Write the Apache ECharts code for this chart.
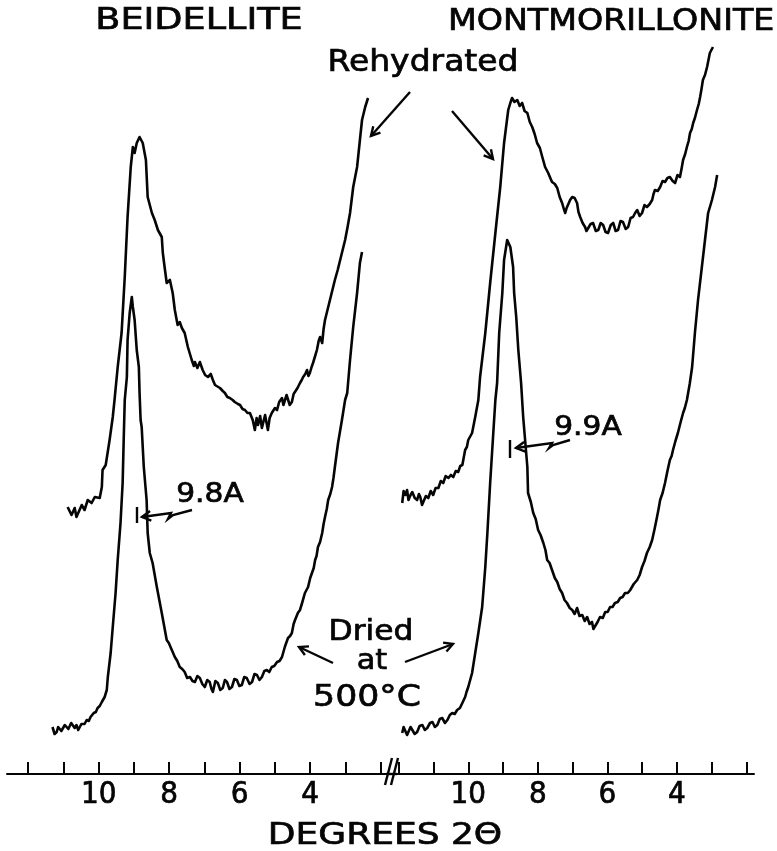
<!DOCTYPE html>
<html lang="en">
<head>
<meta charset="UTF-8">
<title>Beidellite / Montmorillonite XRD</title>
<script src="https://cdn.jsdelivr.net/npm/echarts@6/dist/echarts.min.js"></script>
<style type="text/css">
body{margin:0; padding:0; background:#fff;}
#main{width:777px; height:851px;}
</style>
</head>
<body>
<div id="main"></div>
<script type="text/javascript">
// x = degrees 2-theta, y = relative intensity (traces are stacked)
var tickDegrees = [2, 3, 4, 5, 6, 7, 8, 9, 10, 11, 12];
var labelDegrees = [4, 6, 8, 10];

var beidRehyd = [
  [10.88,267],[10.77,259],[10.68,266],[10.63,257],[10.48,269],[10.40,264],[10.31,274],[10.20,271],
  [10.11,277],[9.97,276],[9.91,287],[9.89,304],[9.80,309],[9.69,334],[9.60,357],[9.55,374],
  [9.46,407],[9.35,441],[9.26,497],[9.18,557],[9.09,607],[9.03,627],[8.98,621],[8.92,631],
  [8.84,637],[8.75,631],[8.66,614],[8.61,577],[8.49,561],[8.41,554],[8.32,544],[8.21,537],
  [8.18,521],[8.13,507],[8.07,491],[7.98,494],[7.90,481],[7.84,464],[7.76,449],[7.70,452],
  [7.64,446],[7.56,441],[7.47,427],[7.36,414],[7.30,408],[7.27,412],[7.20,406],[7.13,412],
  [7.05,404],[6.98,399],[6.90,397],[6.82,400],[6.76,394],[6.70,389],[6.65,391],[6.56,386],
  [6.48,383],[6.42,381],[6.35,377],[6.28,376],[6.20,374],[6.14,372],[6.05,370],[5.99,369],
  [5.92,365],[5.85,364],[5.78,361],[5.71,361],[5.63,354],[5.57,344],[5.52,356],[5.48,349],
  [5.42,358],[5.37,346],[5.28,359],[5.20,344],[5.15,356],[5.09,361],[5.00,366],[4.94,364],
  [4.88,372],[4.80,376],[4.76,369],[4.72,371],[4.67,379],[4.63,377],[4.58,369],[4.52,372],
  [4.47,380],[4.43,379],[4.36,386],[4.29,391],[4.24,394],[4.20,397],[4.14,400],[4.09,404],
  [4.05,398],[4.01,401],[3.96,407],[3.92,411],[3.86,418],[3.81,424],[3.76,433],[3.72,437],
  [3.66,431],[3.62,445],[3.58,454],[3.51,464],[3.44,474],[3.37,484],[3.30,494],[3.22,504],
  [3.15,514],[3.08,524],[3.01,534],[2.94,547],[2.87,561],[2.78,587],[2.67,607],[2.59,634],
  [2.53,654],[2.44,667],[2.36,676]
];

var beidDried = [
  [11.31,47],[11.25,40],[11.19,42],[11.15,47],[11.11,49],[11.06,43],[11.02,44],[10.96,49],
  [10.91,51],[10.86,45],[10.82,46],[10.78,51],[10.74,52],[10.68,46],[10.63,49],[10.58,44],
  [10.54,42],[10.49,50],[10.45,52],[10.40,50],[10.34,54],[10.28,53],[10.23,57],[10.18,56],
  [10.14,61],[10.08,62],[10.03,66],[9.97,68],[9.91,72],[9.87,74],[9.83,77],
  [9.77,84],[9.74,97],[9.66,121],[9.60,147],[9.52,181],[9.46,214],[9.38,251],[9.32,291],
  [9.29,334],[9.26,374],[9.20,397],[9.18,434],[9.12,461],[9.06,477],[9.03,467],[8.98,454],
  [8.92,424],[8.86,407],[8.84,381],[8.81,354],[8.78,347],[8.72,307],[8.64,274],[8.61,241],
  [8.55,221],[8.47,211],[8.35,187],[8.21,161],[8.07,134],[8.01,131],[7.95,126],[7.90,122],
  [7.84,117],[7.77,113],[7.70,107],[7.63,105],[7.56,102],[7.49,96],[7.41,97],[7.34,93],
  [7.27,92],[7.20,98],[7.13,96],[7.06,90],[6.99,87],[6.92,94],[6.85,92],[6.80,85],
  [6.76,82],[6.69,93],[6.62,91],[6.55,84],[6.48,86],[6.42,94],[6.36,92],[6.29,85],
  [6.22,87],[6.15,95],[6.08,94],[6.01,88],[5.94,89],[5.87,97],[5.80,96],[5.72,90],
  [5.65,92],[5.58,100],[5.51,99],[5.44,94],[5.37,97],[5.30,103],[5.23,104],[5.16,102],
  [5.09,107],[5.02,108],[4.94,112],[4.87,113],[4.80,117],[4.72,127],[4.63,136],[4.57,138],
  [4.52,141],[4.47,150],[4.43,154],[4.35,161],[4.29,164],[4.23,171],[4.15,181],[4.10,182],
  [4.06,187],[4.00,196],[3.95,201],[3.90,206],[3.86,214],[3.82,218],[3.78,227],[3.72,232],
  [3.66,241],[3.62,250],[3.58,257],[3.53,265],[3.49,274],[3.43,280],[3.38,287],[3.34,296],
  [3.30,307],[3.21,331],[3.10,354],[3.01,374],[2.95,381],[2.87,414],[2.78,447],[2.67,481],
  [2.59,511],[2.53,522]
];

var montRehyd = [
  [11.90,271],[11.86,283],[11.81,279],[11.76,284],[11.72,274],[11.66,279],[11.61,282],[11.54,276],
  [11.47,274],[11.42,280],[11.38,277],[11.33,269],[11.29,271],[11.22,278],[11.15,276],[11.08,283],
  [11.01,279],[10.94,286],[10.86,286],[10.79,293],[10.72,291],[10.65,298],[10.57,296],[10.50,299],
  [10.43,297],[10.36,303],[10.29,302],[10.23,308],[10.17,309],[10.09,324],[10.04,327],
  [10.00,334],[9.89,341],[9.80,357],[9.71,374],[9.66,397],[9.51,441],[9.37,491],[9.22,541],
  [9.08,587],[8.97,631],[8.85,664],[8.79,671],[8.74,676],[8.67,672],[8.59,674],[8.52,668],
  [8.45,671],[8.38,663],[8.30,661],[8.23,652],[8.16,647],[8.09,640],[8.02,631],[7.94,626],
  [7.87,617],[7.83,612],[7.79,607],[7.74,605],[7.70,601],[7.64,596],[7.59,592],[7.51,590],
  [7.44,586],[7.37,577],[7.30,571],[7.25,565],[7.21,561],[7.17,566],[7.13,567],[7.07,574],
  [7.01,577],[6.94,576],[6.87,571],[6.83,562],[6.78,557],[6.71,551],[6.64,547],[6.60,543],
  [6.55,541],[6.48,550],[6.41,551],[6.33,543],[6.26,544],[6.19,551],[6.12,549],[6.05,542],
  [5.98,541],[5.90,549],[5.83,551],[5.76,543],[5.69,544],[5.62,553],[5.55,552],[5.47,545],
  [5.40,547],[5.33,556],[5.26,557],[5.20,561],[5.14,564],[5.07,558],[5.00,561],[4.93,569],
  [4.86,567],[4.78,570],[4.71,574],[4.67,580],[4.63,584],[4.55,583],[4.48,587],[4.41,593],
  [4.34,592],[4.27,596],[4.20,597],[4.12,593],[4.05,591],[3.98,599],[3.91,597],[3.86,606],
  [3.82,614],[3.76,620],[3.71,627],[3.66,633],[3.62,641],[3.57,645],[3.53,651],[3.48,656],
  [3.42,664],[3.37,670],[3.33,677],[3.29,685],[3.25,694],[3.19,699],[3.13,707],[3.09,714],
  [3.05,721],[2.96,727]
];

var montDried = [
  [11.90,41],[11.86,47],[11.81,46],[11.76,39],[11.72,41],[11.66,47],[11.61,47],[11.54,40],
  [11.47,42],[11.40,48],[11.32,49],[11.25,44],[11.18,46],[11.10,51],[11.03,52],[10.96,47],
  [10.89,49],[10.82,55],[10.75,56],[10.67,51],[10.60,54],[10.53,59],[10.46,61],[10.39,60],
  [10.32,64],[10.24,66],[10.17,71],[10.13,73],[10.09,77],[10.05,82],[10.00,87],
  [9.89,101],[9.80,121],[9.71,141],[9.60,167],[9.51,207],[9.45,241],[9.37,291],[9.28,341],
  [9.22,374],[9.17,391],[9.11,441],[9.02,481],[8.97,514],[8.88,534],[8.79,527],[8.71,507],
  [8.68,481],[8.62,457],[8.56,424],[8.48,391],[8.42,357],[8.30,307],[8.28,281],[8.20,272],
  [8.13,261],[8.06,255],[7.99,244],[7.92,239],[7.84,231],[7.78,224],[7.73,214],[7.66,211],
  [7.59,204],[7.51,196],[7.44,192],[7.37,185],[7.30,181],[7.23,174],[7.16,171],[7.08,166],
  [7.01,164],[6.94,160],[6.87,166],[6.80,158],[6.72,159],[6.65,153],[6.58,157],[6.51,150],
  [6.44,152],[6.40,145],[6.35,147],[6.28,152],[6.21,157],[6.13,156],[6.06,162],[5.99,162],
  [5.92,167],[5.85,167],[5.78,171],[5.70,172],[5.63,176],[5.56,177],[5.49,181],[5.41,181],
  [5.34,184],[5.24,190],[5.14,194],[5.07,199],[5.00,207],[4.93,213],[4.86,221],[4.78,227],
  [4.71,234],[4.64,245],[4.57,257],[4.52,266],[4.48,274],[4.41,281],[4.34,291],[4.27,303],
  [4.20,314],[4.15,318],[4.11,324],[4.04,333],[3.97,341],[3.89,352],[3.82,361],[3.77,366],
  [3.71,374],[3.63,390],[3.56,407],[3.48,441],[3.39,474],[3.28,507],[3.19,534],[3.10,561],
  [3.04,568],[2.99,574],[2.90,587],[2.84,599]
];

var ink = '#050505';
var letterFont = 'DejaVu Sans, Liberation Sans, sans-serif';

function xAxisFor(gridIndex, min, max) {
  return {
    gridIndex: gridIndex,
    type: 'value',
    inverse: true,
    min: min,
    max: max,
    splitLine: {show: false},
    axisLine: {onZero: false, lineStyle: {color: ink, width: 2}},
    axisTick: {inside: true, length: 12, customValues: tickDegrees, lineStyle: {color: ink, width: 2}},
    axisLabel: {
      customValues: labelDegrees,
      margin: 5,
      color: ink,
      fontSize: 31,
      fontFamily: 'DejaVu Sans Condensed, DejaVu Sans, sans-serif',
      textBorderColor: ink,
      textBorderWidth: 0.7
    }
  };
}

function yAxisFor(gridIndex) {
  return {gridIndex: gridIndex, type: 'value', min: 0, max: 774, show: false};
}

function trace(name, data, idx) {
  return {
    name: name,
    type: 'line',
    xAxisIndex: idx,
    yAxisIndex: idx,
    data: data,
    showSymbol: false,
    silent: true,
    lineStyle: {color: ink, width: 2.6, join: 'round'}
  };
}

function label(text, x, y, size, sx, align) {
  return {
    type: 'text',
    x: x, y: y,
    scaleX: sx,
    style: {
      text: text,
      fill: ink,
      stroke: ink,
      lineWidth: 0.7,
      fontSize: size,
      fontFamily: letterFont,
      align: align || 'center',
      verticalAlign: 'middle',
      textAlign: align || 'center',
      textVerticalAlign: 'middle'
    }
  };
}

function seg(pts) {
  return {type: 'polyline', shape: {points: pts}, style: {stroke: ink, lineWidth: 2.4, fill: null}};
}

// polyline ending in an open arrow head
function arrow(pts) {
  var n = pts.length;
  var tip = pts[n - 1], from = pts[n - 2];
  var ang = Math.atan2(from[1] - tip[1], from[0] - tip[0]);
  var len = 10, spread = 0.5;
  var a1 = [tip[0] + len * Math.cos(ang + spread), tip[1] + len * Math.sin(ang + spread)];
  var a2 = [tip[0] + len * Math.cos(ang - spread), tip[1] + len * Math.sin(ang - spread)];
  return [seg(pts), seg([a1, tip, a2])];
}

var graphics = [
  label('BEIDELLITE', 199, 21, 30, 1.22),
  label('MONTMORILLONITE', 448, 22, 30, 1.11, 'left'),
  label('Rehydrated', 423, 63, 30, 1.10),
  label('9.8A', 210, 495, 27, 1.1),
  label('9.9A', 588, 428, 27, 1.1),
  label('Dried', 371, 632, 29, 1.08),
  label('at', 372, 661, 29, 1.05),
  label('500°C', 367, 698, 31, 1.12),
  label('DEGREES 2Θ', 385, 836, 30, 1.2),
  seg([[137, 507], [137, 523]]),
  seg([[510, 440], [510, 458]]),
  // axis break
  seg([[386, 774], [397, 774]]),
  seg([[385, 785], [392, 758]]),
  seg([[391, 785], [398, 758]])
];
graphics = graphics
  .concat(arrow([[410, 92], [371, 136]]))
  .concat(arrow([[452, 111], [493, 159]]))
  .concat(arrow([[333, 663], [299, 647]]))
  .concat(arrow([[405, 662], [453, 644]]))
  .concat(arrow([[192, 510], [173, 515], [168, 519], [171, 513], [142, 517]]))
  .concat(arrow([[570, 440], [553, 445], [549, 448], [552, 443], [516, 448]]));

var myChart = echarts.init(document.getElementById('main'));
var option = {
  animation: false,
  backgroundColor: '#fff',
  grid: [
    {left: 7, right: 391, top: 0, bottom: 77},
    {left: 397, right: 23, top: 0, bottom: 77}
  ],
  xAxis: [xAxisFor(0, 1.85, 12.6), xAxisFor(1, 1.78, 12.05)],
  yAxis: [yAxisFor(0), yAxisFor(1)],
  series: [
    trace('Beidellite rehydrated', beidRehyd, 0),
    trace('Beidellite dried at 500°C', beidDried, 0),
    trace('Montmorillonite rehydrated', montRehyd, 1),
    trace('Montmorillonite dried at 500°C', montDried, 1)
  ],
  graphic: {elements: graphics}
};
myChart.setOption(option);
</script>
</body>
</html>
